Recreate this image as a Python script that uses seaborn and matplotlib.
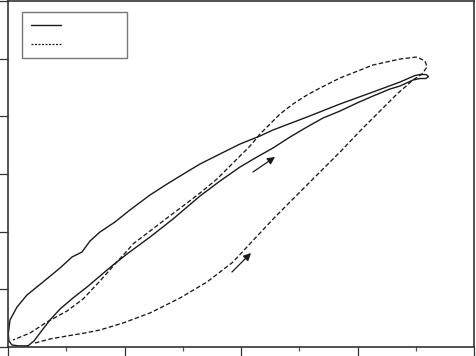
import matplotlib
matplotlib.use("Agg")
import matplotlib.pyplot as plt
from matplotlib.lines import Line2D
from matplotlib.ticker import MultipleLocator, NullFormatter
import seaborn as sns
import pandas as pd

# ---- data ----
solid_x = [0.343, 0.446, 0.549, 0.721, 0.893, 1.116, 1.356, 1.579, 1.803, 2.043,
           2.438, 2.833, 3.296, 3.639, 3.983, 4.275, 4.549, 4.841, 5.133, 5.408,
           5.700, 5.991, 6.266, 6.558, 6.730, 6.953,
           7.073, 7.176, 7.219, 7.176, 7.073, 6.987,
           6.730, 6.266, 5.700, 5.133, 4.549, 4.326, 3.983, 3.639, 3.296, 3.039,
           2.730, 2.438, 2.094, 1.837, 1.579, 1.408, 1.270, 1.099, 0.893, 0.601,
           0.326, 0.155, 0.034, 0.005, 0.017, 0.069, 0.172, 0.343]
solid_y = [0.020, 0.104, 0.243, 0.468, 0.659, 0.850, 1.040, 1.231, 1.422, 1.613,
           1.907, 2.220, 2.618, 2.878, 3.121, 3.295, 3.451, 3.641, 3.815, 3.971,
           4.092, 4.231, 4.352, 4.474, 4.526, 4.630,
           4.656, 4.656, 4.690, 4.725, 4.725, 4.708,
           4.595, 4.422, 4.214, 3.988, 3.763, 3.659, 3.520, 3.347, 3.173, 3.017,
           2.826, 2.636, 2.376, 2.168, 1.994, 1.838, 1.647, 1.561, 1.370, 1.127,
           0.902, 0.694, 0.468, 0.225, 0.104, 0.035, 0.020, 0.020]

dashed_x = [0.464, 0.721, 1.013, 1.322, 1.579, 1.974, 2.438, 2.953, 3.416, 3.863,
            4.326, 4.584, 5.013, 5.356, 5.700, 6.043, 6.386, 6.678, 6.953,
            7.107, 7.193, 7.159, 7.021, 6.730, 6.266,
            5.700, 5.356, 5.133, 4.893, 4.669, 4.326, 4.155, 3.863, 3.588, 3.296,
            3.004, 2.730, 2.438, 2.146, 2.043, 1.837, 1.579, 1.288, 1.013, 0.670,
            0.378, 0.086]
dashed_y = [0.069, 0.139, 0.191, 0.243, 0.295, 0.416, 0.590, 0.850, 1.127, 1.474,
            1.977, 2.254, 2.688, 3.035, 3.381, 3.745, 4.092, 4.387, 4.630,
            4.734, 4.855, 4.959, 5.029, 4.994, 4.890,
            4.665, 4.491, 4.370, 4.214, 4.040, 3.693, 3.485, 3.191, 2.913, 2.670,
            2.445, 2.237, 2.011, 1.786, 1.665, 1.439, 1.144, 0.832, 0.624, 0.434,
            0.243, 0.121]

arrow_tails = [(4.206, 3.035), (3.845, 1.301)]
arrow_heads = [(4.584, 3.295), (4.172, 1.630)]

x_range = (0, 8)
y_range = (0, 6)

# ---- plotting ----
sns.set_style("ticks")
fig = plt.figure(figsize=(4.76, 3.56), dpi=100)
ax = fig.add_axes([8 / 476, 9 / 356, 466 / 476, 346 / 356])

df_s = pd.DataFrame({"x": solid_x, "y": solid_y})
df_d = pd.DataFrame({"x": dashed_x, "y": dashed_y})
ink = "#1a1a1a"
sns.lineplot(data=df_s, x="x", y="y", sort=False, estimator=None, ax=ax,
             color=ink, lw=1.0)
sns.lineplot(data=df_d, x="x", y="y", sort=False, estimator=None, ax=ax,
             color=ink, lw=0.95, linestyle=(0, (3.4, 1.8)))

for (tx, ty), (hx, hy) in zip(arrow_tails, arrow_heads):
    ax.annotate("", xy=(hx, hy), xytext=(tx, ty),
                arrowprops=dict(arrowstyle="-|>", color=ink, lw=0.9,
                                mutation_scale=11, shrinkA=0, shrinkB=0))

ax.set_xlim(*x_range)
ax.set_ylim(*y_range)
ax.set_xlabel("")
ax.set_ylabel("")
ax.xaxis.set_major_locator(MultipleLocator(2))
ax.xaxis.set_minor_locator(MultipleLocator(1))
ax.yaxis.set_major_locator(MultipleLocator(1))
ax.xaxis.set_major_formatter(NullFormatter())
ax.yaxis.set_major_formatter(NullFormatter())
ax.tick_params(which="major", direction="out", length=8, width=0.9, color="#333333")
ax.tick_params(which="minor", direction="out", length=3, width=0.9, color="#555555")
for sp in ax.spines.values():
    sp.set_visible(True)
    sp.set_linewidth(1.2)
    sp.set_color("#333333")

handles = [Line2D([], [], color=ink, lw=1.0),
           Line2D([], [], color=ink, lw=0.9, linestyle=(0, (1.6, 1.2)))]
leg = ax.legend(handles, [" " * 16, " " * 16], loc="upper left",
                bbox_to_anchor=(14 / 466, 1 - 11 / 346), borderaxespad=0,
                fontsize=7, handlelength=3.1, handletextpad=0.8,
                labelspacing=0.9, borderpad=0.9, frameon=True, fancybox=False)
leg.get_frame().set_edgecolor("#777777")
leg.get_frame().set_linewidth(1.0)
leg.get_frame().set_alpha(1)

fig.savefig("out.png", dpi=100)
